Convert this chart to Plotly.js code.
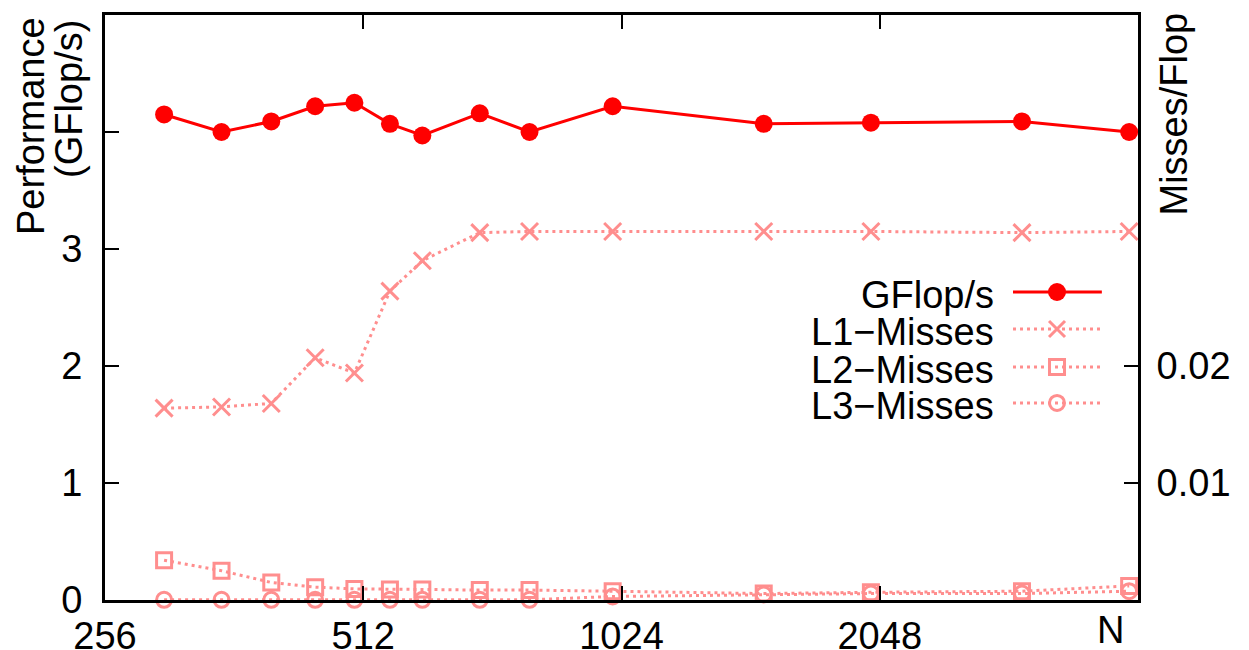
<!DOCTYPE html>
<html>
<head>
<meta charset="utf-8">
<script src="https://cdn.plot.ly/plotly-3.0.1.min.js"></script>
<style>
  html, body { margin: 0; padding: 0; background: #ffffff; }
  #chart { width: 1249px; height: 650px; }
</style>
</head>
<body>
<div id="chart"></div>
<script>
// ---- data ----
const problemSize = [300, 350, 400, 450, 500, 550, 600, 700, 800, 1000, 1500, 2000, 3000, 4000];
const gflops   = [4.15, 4.00, 4.09, 4.22, 4.25, 4.07, 3.97, 4.16, 4.00, 4.22, 4.07, 4.08, 4.09, 4.00];
const l1Misses = [0.0164, 0.0165, 0.0168, 0.0207, 0.0194, 0.0264, 0.0290, 0.0314, 0.0315, 0.0315, 0.0315, 0.0315, 0.0314, 0.0315];
const l2Misses = [0.0034, 0.0025, 0.0015, 0.0011, 0.00095, 0.0009, 0.0009, 0.00085, 0.00085, 0.00075, 0.00055, 0.00066, 0.00075, 0.0012];
const l3Misses = [0.00002, 0.00002, 0.00002, 0.00002, 0.00002, 0.00002, 0.00002, 0.00002, 0.00002, 0.0003, 0.00047, 0.00055, 0.00055, 0.00075];

const seriesNames = ['GFlop/s', 'L1\u2212Misses', 'L2\u2212Misses', 'L3\u2212Misses'];
const xTickVals  = [256, 512, 1024, 2048, 4096];
const xTickText  = ['256', '512', '1024', '2048', ''];
const yTickVals  = [0, 1, 2, 3, 4];
const yTickText  = ['0', '1', '2', '3', ''];
const y2TickVals = [0.01, 0.02];
const y2TickText = ['0.01', '0.02'];

// ---- styling ----
const RED = '#ff0000';
const PINK = '#ff8e8e';
const FONT = 'Liberation Sans, Arial, Helvetica, sans-serif';
const FS = 38;
const DOT = '3px,4px';

const traces = [
  { x: problemSize, y: gflops, name: seriesNames[0], yaxis: 'y', type: 'scatter', mode: 'lines+markers',
    line: { color: RED, width: 3 }, marker: { symbol: 'circle', size: 18, color: RED }, cliponaxis: false },
  { x: problemSize, y: l1Misses, name: seriesNames[1], yaxis: 'y2', type: 'scatter', mode: 'lines+markers',
    line: { color: PINK, width: 3, dash: DOT },
    marker: { symbol: 'x-thin', size: 17, color: PINK, line: { color: PINK, width: 3 } }, cliponaxis: false },
  { x: problemSize, y: l2Misses, name: seriesNames[2], yaxis: 'y2', type: 'scatter', mode: 'lines+markers',
    line: { color: PINK, width: 3, dash: DOT },
    marker: { symbol: 'square-open', size: 15, color: PINK, line: { color: PINK, width: 3 } }, cliponaxis: false },
  { x: problemSize, y: l3Misses, name: seriesNames[3], yaxis: 'y2', type: 'scatter', mode: 'lines+markers',
    line: { color: PINK, width: 3, dash: DOT },
    marker: { symbol: 'circle-open', size: 15, color: PINK, line: { color: PINK, width: 3 } }, cliponaxis: false }
];

// ---- legend drawn gnuplot-style (text left, sample right) ----
const legColors = [RED, PINK, PINK, PINK];
const legDash = ['solid', DOT, DOT, DOT];
const legRowY = [0.5265, 0.4632, 0.3983, 0.3368];
const legTextX = 0.8616, legLineX0 = 0.879, legLineX1 = 0.965, legSymX = 0.9216;
const shapes = [];
const annotations = [];
seriesNames.forEach((nm, i) => {
  annotations.push({ xref: 'paper', yref: 'paper', x: legTextX, y: legRowY[i], xanchor: 'right', yanchor: 'middle',
    text: nm, showarrow: false, font: { family: FONT, size: FS, color: '#000' }, yshift: -3, borderpad: 0 });
  shapes.push({ type: 'line', xref: 'paper', yref: 'paper', x0: legLineX0, x1: legLineX1, y0: legRowY[i], y1: legRowY[i],
    line: { color: legColors[i], width: 3, dash: legDash[i] }, layer: 'above' });
  const base = { xref: 'paper', yref: 'paper', xsizemode: 'pixel', ysizemode: 'pixel', xanchor: legSymX, yanchor: legRowY[i], layer: 'above' };
  if (i === 0) {
    shapes.push(Object.assign({ type: 'circle', x0: -9, x1: 9, y0: -9, y1: 9, fillcolor: RED, line: { width: 0 } }, base));
  } else if (i === 1) {
    shapes.push(Object.assign({ type: 'path', path: 'M-8,-8L8,8M-8,8L8,-8', line: { color: PINK, width: 3 } }, base));
  } else if (i === 2) {
    shapes.push(Object.assign({ type: 'rect', x0: -7.5, x1: 7.5, y0: -7.5, y1: 7.5, fillcolor: 'rgba(0,0,0,0)', line: { color: PINK, width: 3 } }, base));
  } else {
    shapes.push(Object.assign({ type: 'circle', x0: -7.5, x1: 7.5, y0: -7.5, y1: 7.5, fillcolor: 'rgba(0,0,0,0)', line: { color: PINK, width: 3 } }, base));
  }
});

// axis titles (gnuplot places them at the top of the axes)
annotations.push({ xref: 'paper', yref: 'paper', x: 0, y: 1, xanchor: 'center', yanchor: 'top', xshift: -74, yshift: -1,
  textangle: -90, showarrow: false, text: 'Performance', borderpad: 0,
  font: { family: FONT, size: FS, color: '#000' } });
annotations.push({ xref: 'paper', yref: 'paper', x: 0, y: 1, xanchor: 'center', yanchor: 'top', xshift: -36, yshift: -4,
  textangle: -90, showarrow: false, text: '(GFlop/s)', borderpad: 0,
  font: { family: FONT, size: FS, color: '#000' } });
annotations.push({ xref: 'paper', yref: 'paper', x: 1, y: 1, xanchor: 'center', yanchor: 'top', xshift: 35, yshift: 3,
  textangle: -90, showarrow: false, text: 'Misses/Flop', borderpad: 0,
  font: { family: FONT, size: FS, color: '#000' } });
annotations.push({ xref: 'paper', yref: 'paper', x: 1, y: 0, xanchor: 'center', yanchor: 'top', xshift: -28, yshift: -8,
  showarrow: false, text: 'N', borderpad: 0, font: { family: FONT, size: FS, color: '#000' } });

const layout = {
  width: 1249, height: 650,
  margin: { l: 105, r: 111, t: 15, b: 50, pad: 0 },
  paper_bgcolor: '#ffffff', plot_bgcolor: '#ffffff',
  showlegend: false,
  font: { family: FONT, size: FS, color: '#000' },
  xaxis: {
    type: 'log', range: [Math.log10(256), Math.log10(4096)],
    tickvals: xTickVals, ticktext: xTickText,
    ticks: 'inside', ticklen: 14, tickwidth: 2, tickcolor: '#000',
    showline: true, linewidth: 3, linecolor: '#000', mirror: 'ticks',
    showgrid: false, zeroline: false, automargin: false,
    tickfont: { family: FONT, size: FS, color: '#000' }, ticklabelstandoff: 0
  },
  yaxis: {
    range: [0, 5], tickvals: yTickVals, ticktext: yTickText,
    ticks: 'inside', ticklen: 14, tickwidth: 2, tickcolor: '#000',
    showline: true, linewidth: 3, linecolor: '#000', mirror: false,
    showgrid: false, zeroline: false, automargin: false,
    tickfont: { family: FONT, size: FS, color: '#000' }, ticklabelstandoff: 12
  },
  yaxis2: {
    overlaying: 'y', side: 'right',
    range: [0, 0.05], tickvals: y2TickVals, ticktext: y2TickText,
    ticks: 'inside', ticklen: 14, tickwidth: 2, tickcolor: '#000',
    showline: true, linewidth: 3, linecolor: '#000',
    showgrid: false, zeroline: false, automargin: false,
    tickfont: { family: FONT, size: FS, color: '#000' }, ticklabelstandoff: 8
  },
  shapes: shapes,
  annotations: annotations
};

Plotly.newPlot('chart', traces, layout, { displayModeBar: false, staticPlot: true });
</script>
</body>
</html>
